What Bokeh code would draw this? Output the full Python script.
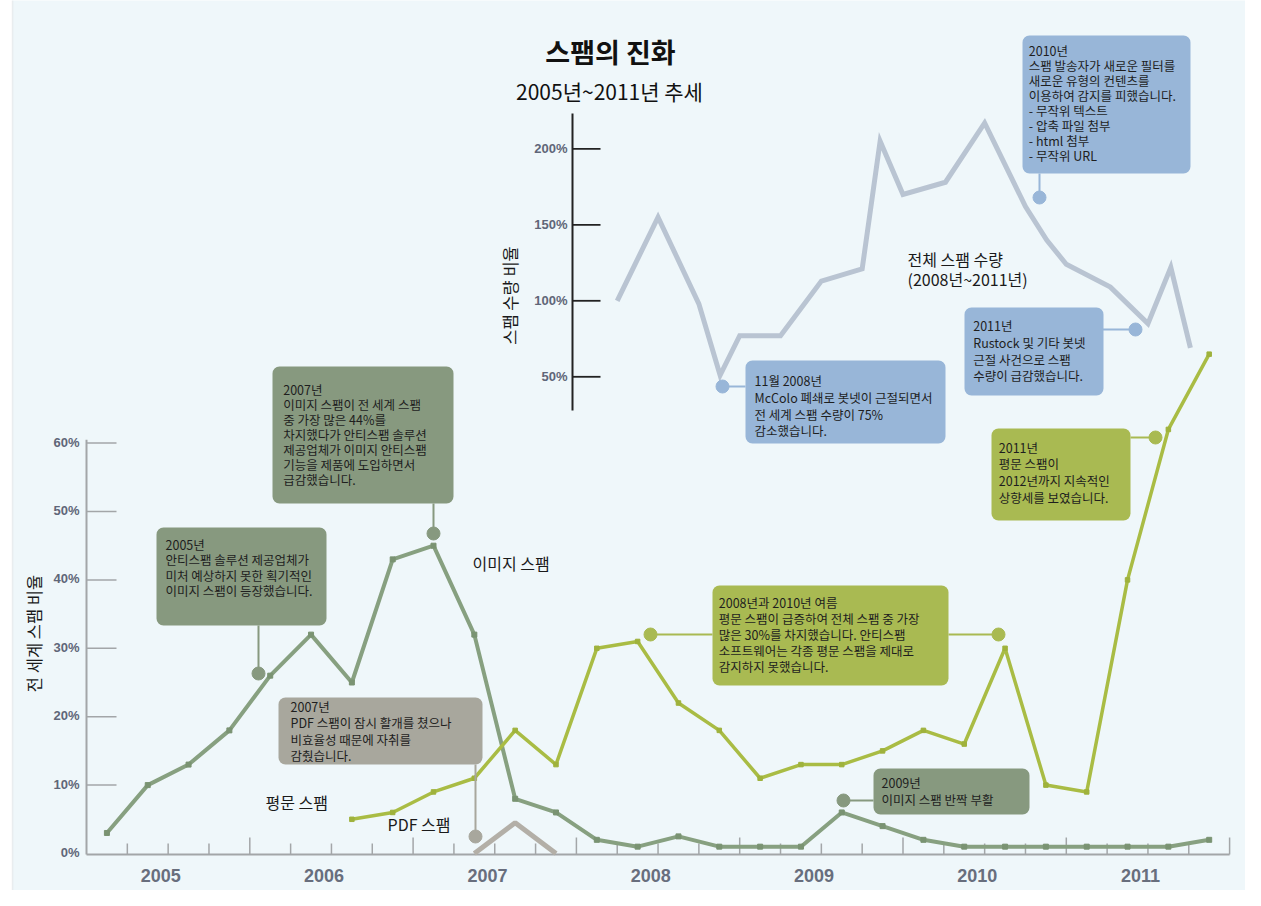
import math
from bokeh.plotting import figure
from bokeh.models import Range1d, BoxAnnotation
from bokeh.core.properties import value
from bokeh.embed import file_html
from bokeh.resources import INLINE

# ---------------- data ----------------
image_quarters = [2005.125, 2005.375, 2005.625, 2005.875,
                  2006.125, 2006.375, 2006.625, 2006.875,
                  2007.125, 2007.375, 2007.625, 2007.875,
                  2008.125, 2008.375, 2008.625, 2008.875,
                  2009.125, 2009.375, 2009.625, 2009.875,
                  2010.125, 2010.375, 2010.625, 2010.875,
                  2011.125, 2011.375, 2011.625, 2011.875]
image_spam = [3, 10, 13, 18, 26, 32, 25, 43, 45, 32, 8, 6, 2, 1, 2.5, 1,
              1, 1, 6, 4, 2, 1, 1, 1, 1, 1, 1, 2]

plain_quarters = [2006.625, 2006.875,
                  2007.125, 2007.375, 2007.625, 2007.875,
                  2008.125, 2008.375, 2008.625, 2008.875,
                  2009.125, 2009.375, 2009.625, 2009.875,
                  2010.125, 2010.375, 2010.625, 2010.875,
                  2011.125, 2011.375, 2011.625, 2011.875]
plain_spam = [5, 6, 9, 11, 18, 13, 30, 31, 22, 18, 11, 13, 13, 15, 18, 16,
              30, 10, 9, 40, 62, 73]

pdf_quarters = [2007.375, 2007.625, 2007.875]
pdf_spam = [0, 4.5, 0]

volume_dates = [2008.25, 2008.50, 2008.75, 2008.88, 2009.00, 2009.25, 2009.50,
                2009.75, 2009.86, 2010.00, 2010.26, 2010.50, 2010.75, 2010.88,
                2011.00, 2011.27, 2011.50, 2011.64, 2011.76]
volume_pct = [100, 155, 98, 51, 77, 77, 113, 121, 205, 170, 178, 217, 162,
              140, 124, 109, 85, 122, 69]

years = [2005, 2006, 2007, 2008, 2009, 2010, 2011]
year_labels = ["2005", "2006", "2007", "2008", "2009", "2010", "2011"]
share_ticks = [0, 10, 20, 30, 40, 50, 60]
share_tick_labels = ["0%", "10%", "20%", "30%", "40%", "50%", "60%"]
volume_ticks = [50, 100, 150, 200]
volume_tick_labels = ["50%", "100%", "150%", "200%"]

# ---------------- layout helpers (image pixels -> data) ----------------
X0, PXY = 86.0, 163.3        # x of 2005.0, px per year
Y0, PXP = 853.0, 6.84        # y of 0 %, px per percent (lower chart)
UY100, UPX = 300.3, 1.52     # y of 100 %, px per percent (upper chart)
CW, CH = 1245, 890


def T(px):
    return 2005 + (px - X0) / PXY


def V(py):
    return (Y0 - py) / PXP


def W(py):
    return 100 + (UY100 - py) / UPX


FONT = value("Noto Sans CJK KR")
NUMFONT = value("Liberation Sans")

p = figure(width=CW, height=CH, x_range=Range1d(T(0), T(CW)),
           y_range=Range1d(V(CH), V(0)), output_backend="svg",
           toolbar_location=None, x_axis_location=None, y_axis_location=None,
           min_border=0, outline_line_color=None,
           background_fill_color="white", border_fill_color="white")
p.extra_y_ranges = {"vol": Range1d(W(CH), W(0))}
p.xgrid.visible = False
p.ygrid.visible = False

# panel
p.add_layout(BoxAnnotation(left=T(12), right=T(1247), top=V(-10), bottom=V(910),
                           fill_color="#eff7fa", fill_alpha=1.0,
                           line_color="#c9cdd0", line_width=1.5, level="underlay"))

C_IMG = "#87997f"
C_PLAIN = "#a9ba52"
C_BLUE = "#98b6d8"
C_PDF = "#a8a79d"

# callout boxes
boxes = [
    (272, 453, 366, 503, C_IMG),
    (156, 326, 527, 625, C_IMG),
    (278, 482, 697, 764, C_PDF),
    (712, 948, 585, 685, C_PLAIN),
    (873, 1029, 768, 814, C_IMG),
    (991, 1130, 428, 520, C_PLAIN),
    (964, 1103, 307, 395, C_BLUE),
    (745, 945, 360, 443, C_BLUE),
    (1022, 1190, 35, 173, C_BLUE),
]
for l, r, t, b, c in boxes:
    p.add_layout(BoxAnnotation(left=T(l), right=T(r), top=V(t), bottom=V(b),
                               fill_color=c, fill_alpha=1.0, line_color=None,
                               border_radius=7, level="underlay"))

# ---------------- lower axis ----------------
AX = "#a3a6a8"
p.line([2005, 2005], [V(854), 60.5], line_color=AX, line_width=2)
p.line([2005, 2012], [V(854), V(854)], line_color=AX, line_width=2)
p.segment(x0=[2005] * 6, y0=share_ticks[1:], x1=[T(116)] * 6, y1=share_ticks[1:],
          line_color=AX, line_width=1.5)
qt = [y + q / 4 for y in years for q in (1, 2, 3)]
p.segment(x0=qt, y0=[V(854)] * len(qt), x1=qt, y1=[V(843)] * len(qt),
          line_color=AX, line_width=1.5)
yt = [y + 1 for y in years]
p.segment(x0=yt, y0=[V(854)] * len(yt), x1=yt, y1=[V(837)] * len(yt),
          line_color=AX, line_width=1.5)
p.text(x=[T(79)] * 7, y=[s + 0.15 for s in share_ticks], text=share_tick_labels,
       text_align="right", text_baseline="middle", text_font=NUMFONT,
       text_font_size="13px", text_font_style="bold", text_color="#5f6678")
p.text(x=[y + 0.455 for y in years], y=[V(875)] * 7, text=year_labels,
       text_align="center", text_baseline="middle", text_font=NUMFONT,
       text_font_size="18px", text_font_style="bold", text_color="#686e7d")

# ---------------- upper axis ----------------
p.line([T(572), T(572)], [W(113), W(410)], line_color="#222222", line_width=2,
       y_range_name="vol")
p.segment(x0=[T(572)] * 4, y0=volume_ticks, x1=[T(600)] * 4, y1=volume_ticks,
          line_color="#222222", line_width=1.8, y_range_name="vol")
p.text(x=[T(567)] * 4, y=volume_ticks, text=volume_tick_labels,
       text_align="right", text_baseline="middle", text_font=NUMFONT,
       text_font_size="13px", text_font_style="bold", text_color="#5f6678",
       y_range_name="vol")

# ---------------- series ----------------
p.line(volume_dates, volume_pct, line_color="#b9c4d2", line_width=5,
       y_range_name="vol", line_join="miter")
p.line(pdf_quarters, pdf_spam, line_color="#b3afa7", line_width=5)
p.line(image_quarters, image_spam, line_color="#87a080", line_width=4)
p.scatter(image_quarters, image_spam, marker="square", size=5, color="#7a9372")
p.line(plain_quarters, plain_spam, line_color="#a9bc44", line_width=3.5)
p.scatter(plain_quarters, plain_spam, marker="square", size=4.5, color="#9fb23c")

# ---------------- connectors (box edge -> dot) ----------------
conns = [
    ((433, 503), (433, 533), C_IMG),
    ((258, 625), (258, 673), C_IMG),
    ((475, 764), (475, 836), C_PDF),
    ((712, 634), (650, 634), C_PLAIN),
    ((948, 634), (998, 634), C_PLAIN),
    ((873, 800), (843, 800), C_IMG),
    ((1130, 437), (1155, 437), C_PLAIN),
    ((1102, 329), (1135, 329), C_BLUE),
    ((745, 386), (722, 386), C_BLUE),
    ((1039, 173), (1039, 197), C_BLUE),
]
for (xa, ya), (xb, yb), c in conns:
    p.line([T(xa), T(xb)], [V(ya), V(yb)], line_color=c, line_width=2)
    p.scatter([T(xb)], [V(yb)], size=13, color=c)

# ---------------- box texts ----------------
FS = 12.5
texts = [
    (282.7, 388.3, 14.3, "2007년\n이미지 스팸이 전 세계 스팸\n중 가장 많은 44%를\n차지했다가 안티스팸 솔루션\n제공업체가 이미지 안티스팸\n기능을 제품에 도입하면서\n급감했습니다."),
    (165, 542.7, 14.7, "2005년\n안티스팸 솔루션 제공업체가\n미처 예상하지 못한 획기적인\n이미지 스팸이 등장했습니다."),
    (290, 705, 15.7, "2007년\nPDF 스팸이 잠시 활개를 쳤으나\n비효율성 때문에 자취를\n감췄습니다."),
    (718.3, 600.7, 15.2, "2008년과 2010년 여름\n평문 스팸이 급증하여 전체 스팸 중 가장\n많은 30%를 차지했습니다. 안티스팸\n소프트웨어는 각종 평문 스팸을 제대로\n감지하지 못했습니다."),
    (881, 781, 16, "2009년\n이미지 스팸 반짝 부활"),
    (998.3, 445.7, 16, "2011년\n평문 스팸이\n2012년까지 지속적인\n상향세를 보였습니다."),
    (972.7, 324, 16, "2011년\nRustock 및 기타 봇넷\n근절 사건으로 스팸\n수량이 급감했습니다."),
    (754, 379, 16, "11월 2008년\nMcColo 폐쇄로 봇넷이 근절되면서\n전 세계 스팸 수량이 75%\n감소했습니다."),
    (1028.3, 49.3, 14.3, "2010년\n스팸 발송자가 새로운 필터를\n새로운 유형의 컨텐츠를\n이용하여 감지를 피했습니다.\n- 무작위 텍스트\n- 압축 파일 첨부\n- html 첨부\n- 무작위 URL"),
]
for x, yc, lh, s in texts:
    p.text(x=[T(x)], y=[V(yc - 8.5)], text=[s], text_align="left",
           text_baseline="top", text_font=FONT, text_font_size=f"{FS}px",
           text_color="#1e1e1e", text_line_height=lh / (FS * 1.448))

# ---------------- titles and labels ----------------
p.text(x=[T(610)], y=[V(51)], text=["스팸의 진화"], text_align="center",
       text_baseline="middle", text_font=FONT, text_font_size="27px",
       text_font_style="bold", text_color="#111111")
p.text(x=[T(609)], y=[V(90)], text=["2005년~2011년 추세"], text_align="center",
       text_baseline="middle", text_font=FONT, text_font_size="21px",
       text_color="#111111")
labels = [
    (472, 562, "이미지 스팸"),
    (265, 801, "평문 스팸"),
    (387, 823, "PDF 스팸"),
    (907, 258, "전체 스팸 수량"),
    (907, 278, "(2008년~2011년)"),
]
for x, y, s in labels:
    p.text(x=[T(x)], y=[V(y)], text=[s], text_align="left", text_baseline="middle",
           text_font=FONT, text_font_size="16px", text_color="#1a1a1a")
p.text(x=[T(33)], y=[V(633)], text=["전 세계 스팸 비율"], angle=math.pi / 2,
       text_align="center", text_baseline="middle", text_font=FONT,
       text_font_size="16.5px", text_color="#1a1a1a")
p.text(x=[T(509)], y=[V(295)], text=["스팸 수량 비율"], angle=math.pi / 2,
       text_align="center", text_baseline="middle", text_font=FONT,
       text_font_size="16.5px", text_color="#1a1a1a")

open("out.html", "w").write(file_html(p, INLINE))
